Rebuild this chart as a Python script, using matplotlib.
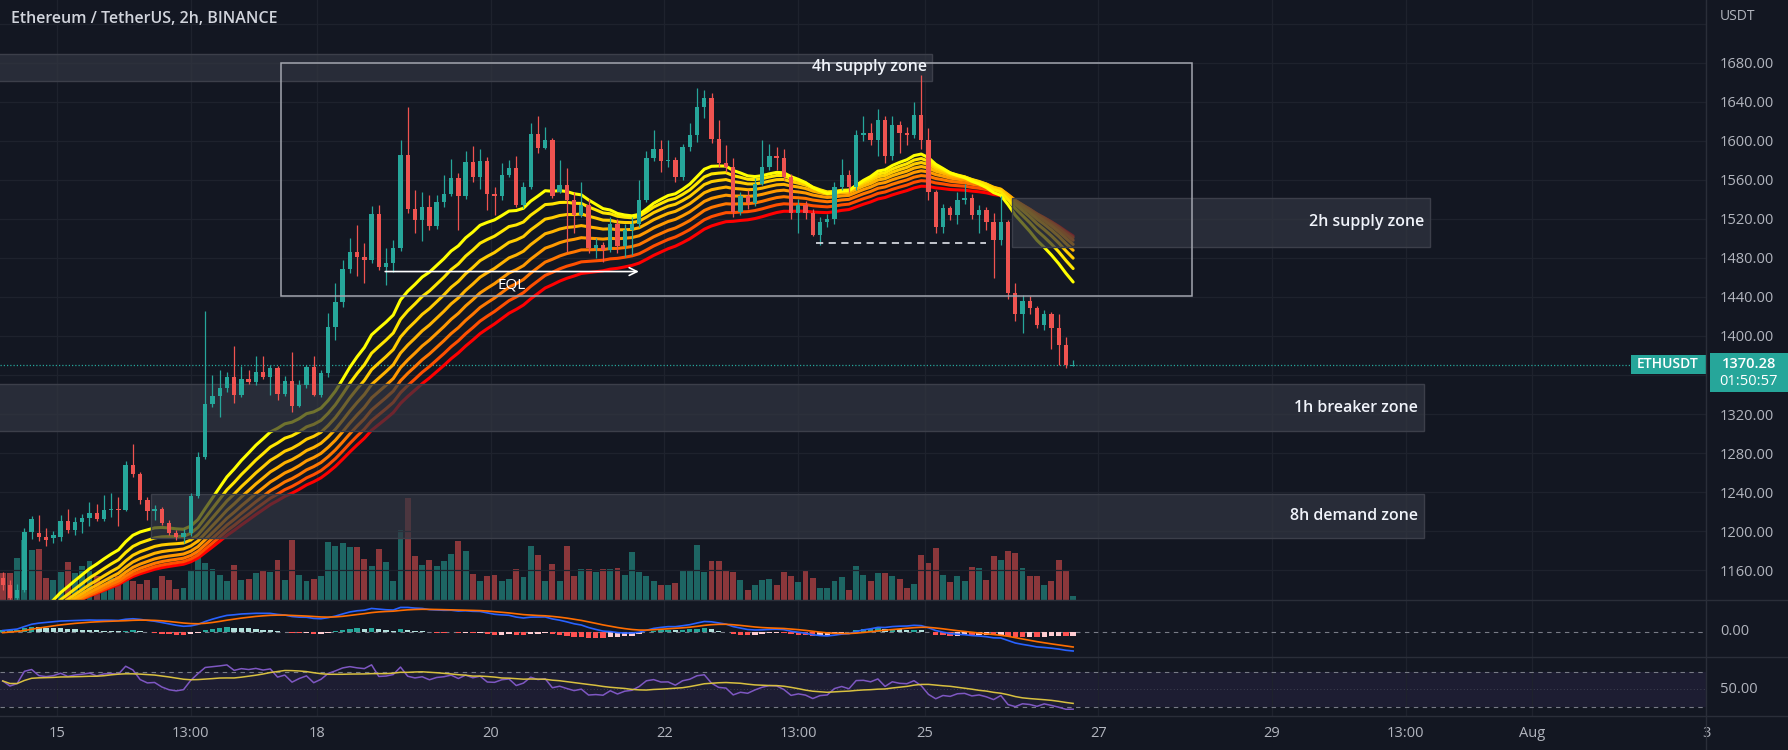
import numpy as np
import pandas as pd
import matplotlib
matplotlib.use("Agg")
import matplotlib.pyplot as plt
import matplotlib.transforms as mtransforms
from matplotlib.patches import Rectangle
from matplotlib.lines import Line2D

plt.rcParams["font.family"] = ["Open Sans", "DejaVu Sans"]

# ETHUSDT 2h candles
times = pd.date_range("2022-07-14 09:00", periods=149, freq="2h")
opens = [1152, 1145, 1132, 1140, 1199, 1198, 1194, 1193, 1194, 1210,
         1201, 1209, 1213, 1219, 1212, 1222, 1223, 1222, 1268, 1259,
         1232, 1221, 1223, 1208, 1198, 1194, 1198, 1236, 1276, 1330,
         1338, 1347, 1358, 1340, 1356, 1353, 1363, 1358, 1367, 1341,
         1354, 1328, 1350, 1368, 1340, 1362, 1409, 1435, 1469, 1486,
         1481, 1478, 1525, 1471, 1475, 1490, 1585, 1530, 1519, 1532,
         1513, 1537, 1545, 1562, 1543, 1578, 1563, 1579, 1545, 1543,
         1565, 1572, 1534, 1553, 1607, 1593, 1601, 1548, 1555, 1539,
         1524, 1534, 1490, 1493, 1488, 1515, 1492, 1509, 1515, 1539,
         1582, 1592, 1579, 1580, 1563, 1594, 1606, 1635, 1644, 1602,
         1577, 1573, 1527, 1543, 1536, 1556, 1573, 1584, 1582, 1563,
         1526, 1534, 1526, 1503, 1517, 1520, 1553, 1565, 1553, 1606,
         1608, 1601, 1621, 1584, 1616, 1608, 1606, 1626, 1601, 1547,
         1512, 1531, 1524, 1539, 1541, 1524, 1529, 1517, 1498, 1517,
         1444, 1422, 1436, 1429, 1411, 1422, 1408, 1391, 1369.6]
highs = [1158, 1150, 1146, 1203, 1216, 1217, 1203, 1200, 1217, 1223,
         1215, 1218, 1230, 1228, 1237, 1239, 1235, 1272, 1289, 1261,
         1235, 1227, 1225, 1211, 1201, 1202, 1239, 1281, 1426, 1360,
         1365, 1363, 1390, 1369, 1365, 1379, 1379, 1370, 1369, 1359,
         1384, 1355, 1370, 1379, 1365, 1424, 1454, 1478, 1500, 1514,
         1495, 1533, 1534, 1490, 1498, 1601, 1635, 1550, 1547, 1544,
         1544, 1565, 1581, 1567, 1590, 1595, 1592, 1583, 1553, 1577,
         1580, 1584, 1558, 1618, 1625, 1614, 1603, 1580, 1572, 1548,
         1558, 1540, 1500, 1496, 1522, 1520, 1515, 1522, 1560, 1590,
         1611, 1601, 1601, 1583, 1597, 1618, 1654, 1652, 1649, 1621,
         1596, 1582, 1548, 1550, 1562, 1601, 1597, 1594, 1592, 1566,
         1540, 1538, 1530, 1522, 1525, 1558, 1581, 1570, 1611, 1625,
         1618, 1633, 1625, 1625, 1620, 1614, 1640, 1667, 1613, 1550,
         1535, 1533, 1548, 1556, 1545, 1534, 1532, 1526, 1543, 1519,
         1454, 1442, 1441, 1431, 1427, 1425, 1423, 1399, 1375]
lows = [1140, 1128, 1126, 1138, 1192, 1190, 1185, 1188, 1190, 1198,
        1196, 1198, 1205, 1210, 1210, 1215, 1205, 1221, 1256, 1228,
        1211, 1211, 1206, 1196, 1191, 1188, 1195, 1234, 1274, 1327,
        1317, 1343, 1331, 1337, 1351, 1350, 1356, 1340, 1334, 1338,
        1322, 1327, 1347, 1338, 1337, 1358, 1396, 1430, 1465, 1461,
        1454, 1475, 1468, 1452, 1466, 1487, 1526, 1505, 1497, 1509,
        1510, 1532, 1543, 1509, 1540, 1558, 1551, 1529, 1524, 1539,
        1563, 1532, 1531, 1551, 1587, 1592, 1541, 1546, 1486, 1505,
        1522, 1485, 1480, 1476, 1486, 1485, 1481, 1483, 1512, 1537,
        1579, 1568, 1573, 1558, 1560, 1590, 1599, 1623, 1598, 1573,
        1568, 1522, 1524, 1530, 1533, 1555, 1570, 1570, 1560, 1520,
        1505, 1520, 1502, 1493, 1512, 1515, 1550, 1548, 1550, 1600,
        1596, 1584, 1577, 1580, 1587, 1596, 1603, 1592, 1539, 1505,
        1505, 1519, 1515, 1535, 1520, 1505, 1509, 1459, 1493, 1438,
        1415, 1403, 1423, 1408, 1406, 1387, 1370, 1367, 1369]
closes = [1145, 1132, 1140, 1199, 1212, 1194, 1191, 1196, 1210, 1201,
          1209, 1213, 1219, 1212, 1222, 1223, 1222, 1268, 1259, 1232,
          1221, 1223, 1208, 1198, 1194, 1198, 1236, 1276, 1330, 1338,
          1347, 1358, 1340, 1356, 1353, 1363, 1358, 1367, 1341, 1354,
          1328, 1350, 1368, 1340, 1362, 1409, 1435, 1469, 1486, 1481,
          1478, 1525, 1471, 1475, 1490, 1585, 1530, 1519, 1532, 1513,
          1537, 1545, 1562, 1543, 1578, 1563, 1579, 1545, 1543, 1565,
          1572, 1534, 1553, 1607, 1593, 1601, 1543, 1555, 1539, 1524,
          1534, 1490, 1493, 1488, 1515, 1492, 1509, 1515, 1539, 1582,
          1592, 1579, 1580, 1563, 1594, 1606, 1635, 1644, 1602, 1577,
          1573, 1527, 1543, 1536, 1556, 1573, 1584, 1582, 1563, 1526,
          1534, 1526, 1503, 1517, 1520, 1553, 1565, 1553, 1606, 1608,
          1601, 1621, 1584, 1616, 1608, 1606, 1626, 1601, 1547, 1512,
          1531, 1524, 1539, 1541, 1524, 1529, 1517, 1498, 1517, 1444,
          1422, 1436, 1429, 1411, 1422, 1408, 1391, 1370, 1370.28]
# volume in thousand ETH
volumes = [81, 81, 126, 181, 151, 153, 66, 59, 84, 113,
           81, 101, 116, 71, 31, 66, 71, 76, 56, 49,
           61, 36, 71, 61, 34, 36, 91, 141, 111, 93,
           76, 56, 106, 59, 63, 81, 86, 84, 119, 61,
           179, 76, 58, 63, 71, 173, 161, 171, 159, 159,
           123, 101, 153, 113, 58, 209, 307, 133, 106, 121,
           101, 116, 138, 178, 146, 79, 56, 73, 76, 56,
           63, 93, 69, 163, 136, 56, 109, 56, 163, 73,
           93, 93, 83, 93, 93, 96, 76, 143, 83, 71,
           56, 46, 46, 51, 91, 91, 166, 83, 118, 116,
           86, 83, 59, 31, 46, 61, 63, 46, 84, 71,
           53, 91, 66, 36, 36, 56, 69, 31, 101, 76,
           56, 81, 81, 71, 63, 36, 49, 136, 111, 156,
           76, 53, 73, 56, 99, 96, 59, 133, 121, 148,
           141, 96, 71, 71, 46, 58, 121, 88, 13]

# EMA ribbon lengths and their values just before the first candle
ribbon_lengths = [20, 25, 30, 35, 40, 45, 50, 55]
ribbon_seeds = [1066, 1072, 1077, 1082, 1086, 1090, 1094, 1098]
macd_seed = 1100
signal_seed = -3
rsi_seed_gain, rsi_seed_loss = 6.0, 3.5

# drawn zones
zone_names = ["4h supply zone", "2h supply zone", "1h breaker zone", "8h demand zone"]
zone_start = ["2022-07-14 00:00", "2022-07-26 00:00", "2022-07-14 00:00", "2022-07-16 02:00"]
zone_end = ["2022-07-25 02:00", "2022-07-30 19:40", "2022-07-30 18:00", "2022-07-30 18:00"]
zone_top = [1689.3, 1541.4, 1351.0, 1238.2]
zone_bottom = [1661.3, 1491.5, 1302.3, 1192.7]

box_start, box_end, box_top, box_bottom = "2022-07-17 14:00", "2022-07-28 02:00", 1680, 1440.5
eql_start, eql_end, eql_price = "2022-07-18 18:00", "2022-07-21 17:40", 1466
lows_start, lows_end, lows_price = "2022-07-23 17:50", "2022-07-25 16:50", 1495

last_price = 1370.28
countdown = "01:50:57"

price_grid = [1160, 1200, 1240, 1280, 1320, 1360, 1400, 1440, 1480, 1520, 1560, 1600, 1640, 1680, 1720]
price_labels = ["1160.00", "1200.00", "1240.00", "1280.00", "1320.00", "", "1400.00", "1440.00",
                "1480.00", "1520.00", "1560.00", "1600.00", "1640.00", "1680.00", ""]
time_ticks = ["2022-07-15", "2022-07-16 13:00", "2022-07-18", "2022-07-20", "2022-07-22",
              "2022-07-23 13:00", "2022-07-25", "2022-07-27", "2022-07-29", "2022-07-30 13:00",
              "2022-08-01", "2022-08-03"]
time_labels = ["15", "13:00", "18", "20", "22", "13:00", "25", "27", "29", "13:00", "Aug", "3"]

t0 = pd.Timestamp("2022-07-15")


def days(t):
    return (pd.Timestamp(t) - t0) / pd.Timedelta("1D")


def ema(vals, length, seed):
    a = 2.0 / (length + 1)
    out, prev = [], seed
    for v in vals:
        prev = prev + a * (v - prev)
        out.append(prev)
    return np.array(out)


def rsi(vals, first_prev, n, g, l):
    out, prev = [], first_prev
    for v in vals:
        ch = v - prev
        g = (g * (n - 1) + max(ch, 0)) / n
        l = (l * (n - 1) + max(-ch, 0)) / n
        out.append(100 - 100 / (1 + g / l))
        prev = v
    return np.array(out)


x = np.asarray((times - t0) / pd.Timedelta("1D"), dtype=float)
o, hi, lo, c = map(np.array, (opens, highs, lows, closes))
vol = np.array(volumes)

W, H = 1788, 750
bg = "#131722"
grid_c = "#1e222d"
sep_c = "#2a2e39"
txt_c = "#b2b5be"
up_c, dn_c = "#26a69a", "#ef5350"

fig = plt.figure(figsize=(W / 100, H / 100), dpi=100, facecolor=bg)
pw = 1706 / W


def pane(top_px, bottom_px):
    return [0, 1 - bottom_px / H, pw, (bottom_px - top_px) / H]


ax_vol = fig.add_axes(pane(0, 600))
ax = fig.add_axes(pane(0, 600), sharex=ax_vol)
ax_macd = fig.add_axes(pane(600, 657), sharex=ax_vol)
ax_rsi = fig.add_axes(pane(657, 716), sharex=ax_vol)
ax_vol.set_zorder(0)
ax.set_zorder(1)
ax.patch.set_visible(False)
for a in (ax_vol, ax_macd, ax_rsi):
    a.set_facecolor(bg)
for a in (ax, ax_vol, ax_macd, ax_rsi):
    for s in a.spines.values():
        s.set_visible(False)

ax_vol.set_xlim(days("2022-07-15") - 57 / 86.87, 19.0)
ax_vol.set_xticks([days(t) for t in time_ticks])
ax_rsi.set_xticklabels(time_labels)
for a in (ax, ax_vol, ax_macd):
    a.tick_params(axis="x", labelbottom=False, length=0)
ax_rsi.tick_params(axis="x", length=0, pad=7, labelcolor=txt_c, labelsize=10.5)
for a in (ax_vol, ax_macd, ax_rsi):
    a.grid(axis="x", color=grid_c, lw=0.9)
    a.set_yticks([])
    a.set_axisbelow(True)

# volume
up = c >= o
ax_vol.bar(x, vol, width=0.068, color=np.where(up, up_c, dn_c), alpha=0.55, linewidth=0)
ax_vol.set_ylim(0, 1800)

# price pane
ax.set_ylim(1129.5, 1744.2)
ax.yaxis.tick_right()
ax.set_yticks(price_grid)
ax.set_yticklabels(price_labels)
ax.tick_params(axis="y", length=0, pad=10, labelcolor=txt_c, labelsize=10.5)
ax.grid(axis="y", color=grid_c, lw=0.9)

cols = ["#ffff00", "#ffe600", "#ffcc00", "#ffb300", "#ff9900", "#ff7700", "#ff4f00", "#ff0000"]
for n, s, col in reversed(list(zip(ribbon_lengths, ribbon_seeds, cols))):
    ax.plot(x, ema(c, n, s), color=col, lw=2.2, zorder=3, solid_capstyle="round")

for name, zs, ze, zt, zb in zip(zone_names, zone_start, zone_end, zone_top, zone_bottom):
    x0, x1 = days(zs), days(ze)
    ax.add_patch(Rectangle((x0, zb), x1 - x0, zt - zb, facecolor=(50 / 255, 54 / 255, 66 / 255, 0.7),
                           edgecolor="#3c3f4a", lw=1, zorder=4))
    ax.annotate(name, xy=(x1, (zt + zb) / 2), xytext=(-4, 0), textcoords="offset points",
                ha="right", va="center", color="#f0f3fa", fontsize=11.5, fontweight="semibold", zorder=9)

ccol = np.where(up, up_c, dn_c)
ax.vlines(x, lo, hi, colors=ccol, lw=0.9, zorder=6)
ax.bar(x, np.maximum(np.abs(c - o), 0.9), bottom=np.minimum(o, c), width=0.05, color=ccol,
       linewidth=0, zorder=6)

bx0, bx1 = days(box_start), days(box_end)
ax.add_patch(Rectangle((bx0, box_bottom), bx1 - bx0, box_top - box_bottom, fill=False,
                       edgecolor="#a3a6af", lw=1.1, zorder=7))
ax.annotate("", xy=(days(eql_end), eql_price), xytext=(days(eql_start), eql_price),
            arrowprops=dict(arrowstyle="->", color="#ffffff", lw=1.2, mutation_scale=14), zorder=8)
ax.text((days(eql_start) + days(eql_end)) / 2, eql_price - 14, "EQL", color="#ffffff",
        ha="center", va="center", fontsize=11, zorder=8)
ax.plot([days(lows_start), days(lows_end)], [lows_price, lows_price], color="#d1d4dc",
        lw=1.3, ls=(0, (4, 3)), zorder=8)

ax.axhline(last_price, color=up_c, lw=0.9, ls=(0, (1, 1.6)), zorder=2)
btr = mtransforms.blended_transform_factory(ax.transAxes, ax.transData)
ax.add_patch(Rectangle((1631 / 1706, last_price - 9.0), 75 / 1706, 19.0, transform=btr,
                       facecolor=up_c, edgecolor="none", zorder=10, clip_on=False))
ax.text(1668 / 1706, last_price + 0.5, "ETHUSDT", transform=btr, ha="center", va="center",
        color="white", fontsize=10, fontweight="semibold", zorder=11, clip_on=False)
ax.add_patch(Rectangle((1710 / 1706, last_price - 27.5), 78 / 1706, 40.0, transform=btr,
                       facecolor=up_c, edgecolor="none", zorder=10, clip_on=False))
ax.text(1749 / 1706, last_price + 0.5, f"{last_price:.2f}", transform=btr, ha="center", va="center",
        color="white", fontsize=10.5, fontweight="semibold", zorder=11, clip_on=False)
ax.text(1749 / 1706, last_price - 16.5, countdown, transform=btr, ha="center", va="center",
        color="white", fontsize=10.5, zorder=11, clip_on=False)

# MACD 12 26 9
macd = ema(c, 12, macd_seed) - ema(c, 26, macd_seed)
signal = ema(macd, 9, signal_seed)
hist = macd - signal
prev = np.r_[hist[0], hist[:-1]]
hcol = np.where(hist >= 0, np.where(hist >= prev, "#26a69a", "#b2dfdb"),
                np.where(hist < prev, "#ff5252", "#ffcdd2"))
ax_macd.bar(x, hist, width=0.062, color=hcol, linewidth=0, zorder=2)
ax_macd.plot(x, macd, color="#2962ff", lw=1.2, zorder=3)
ax_macd.plot(x, signal, color="#ff6d00", lw=1.2, zorder=3)
ax_macd.axhline(0, color="#787b86", lw=0.8, ls=(0, (4, 4)), zorder=1)
M = max(macd.max(), signal.max(), hist.max())
m = min(macd.min(), signal.min(), hist.min())
span = max(M / 0.4439, -m / 0.3333)
top = 0.5614 * span
ax_macd.set_ylim(top - span, top)
mtr = mtransforms.blended_transform_factory(ax_macd.transAxes, ax_macd.transData)
ax_macd.text(1720 / 1706, 0, "0.00", transform=mtr, ha="left", va="center", color=txt_c,
             fontsize=10.5, clip_on=False)

# RSI 14 with its moving average
r = rsi(c, o[0], 14, rsi_seed_gain, rsi_seed_loss)
r_ma = pd.Series(r).rolling(14, min_periods=1).mean().to_numpy()
ax_rsi.set_ylim(19.71, 87.14)
ax_rsi.axhspan(30, 70, color="#7e57c2", alpha=0.1, lw=0, zorder=0)
for lvl in (70, 30):
    ax_rsi.axhline(lvl, color="#787b86", lw=0.8, ls=(0, (4, 4)), zorder=1)
ax_rsi.axhline(50, color="#787b86", lw=0.6, ls=(0, (1, 3)), alpha=0.5, zorder=1)
ax_rsi.plot(x, r, color="#7e57c2", lw=1.1, zorder=3)
ax_rsi.plot(x, r_ma, color="#d8c040", lw=1.1, zorder=3)
rtr = mtransforms.blended_transform_factory(ax_rsi.transAxes, ax_rsi.transData)
ax_rsi.text(1720 / 1706, 50, "50.00", transform=rtr, ha="left", va="center", color=txt_c,
            fontsize=10.5, clip_on=False)

for ypx in (600, 657, 716):
    fig.add_artist(Line2D([0, 1], [1 - ypx / H, 1 - ypx / H], transform=fig.transFigure,
                          color=sep_c, lw=1))
fig.add_artist(Line2D([pw, pw], [0, 1], transform=fig.transFigure, color=sep_c, lw=1))

fig.text(11 / W, 1 - 19 / H, "Ethereum / TetherUS, 2h, BINANCE", color="#d1d4dc",
         fontsize=11.5, fontweight="semibold", va="center", ha="left")
fig.text(1720 / W, 1 - 16 / H, "USDT", color=txt_c, fontsize=10, va="center", ha="left")

fig.savefig("out.png", dpi=100, facecolor=bg)
